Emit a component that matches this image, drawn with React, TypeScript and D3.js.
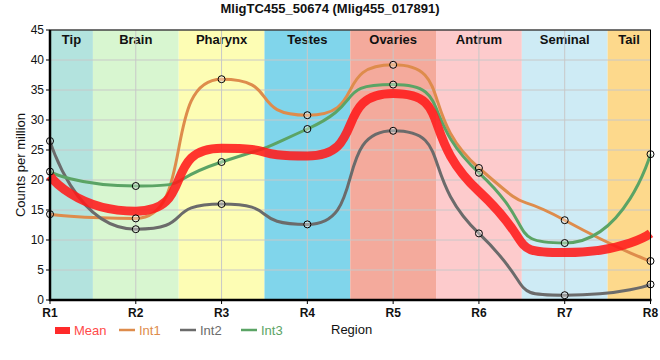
import React from "react";
import * as d3 from "d3";

const categories = ["R1", "R2", "R3", "R4", "R5", "R6", "R7", "R8"];
const int1 = [14.3, 13.6, 36.8, 30.8, 39.2, 22.0, 13.3, 6.5];
const int2 = [26.5, 11.8, 16.0, 12.6, 28.2, 11.1, 0.8, 2.6];
const int3 = [21.4, 19.0, 23.0, 28.5, 35.9, 21.2, 9.5, 24.3];
const mean = [20.7, 14.8, 25.3, 24.0, 34.4, 18.1, 7.9, 11.1];
const regions = ["Tip", "Brain", "Pharynx", "Testes", "Ovaries", "Antrum", "Seminal", "Tail"];
const regionColors = ["#b3e3de", "#d8f6d0", "#fdfdb4", "#80d5eb", "#f4aa9c", "#fdcbcc", "#ceebf5", "#fdd98c"];
const yTicks = [0, 5, 10, 15, 20, 25, 30, 35, 40, 45];

const W = 660, H = 360;
const L = 50, R = 650.5, T = 30, B = 300;
const SMOOTH = 0.7;

// smooth path through every point, with control points that avoid false extremes
function splinePath(pts: [number, number][], a: number): string {
  const path = d3.path();
  let prevRight: [number, number] | null = null;
  pts.forEach((p, i) => {
    const [px, py] = p;
    if (i === 0) {
      path.moveTo(px, py);
      return;
    }
    const last = pts[i - 1];
    const next = pts[i + 1];
    let lc: [number, number] = [px, py];
    let rc: [number, number] | null = null;
    if (next) {
      const [lx, ly] = last;
      const [nx, ny] = next;
      const lcx = (1 - a) * px + a * lx;
      let lcy = (1 - a) * py + a * ly;
      const rcx = (1 - a) * px + a * nx;
      let rcy = (1 - a) * py + a * ny;
      if (rcx !== lcx) {
        const dy = py - rcy - ((px - rcx) * (lcy - rcy)) / (lcx - rcx);
        lcy += dy;
        rcy += dy;
      }
      if (lcy > ly && lcy > py) { lcy = Math.max(ly, py); rcy = 2 * py - lcy; }
      else if (lcy < ly && lcy < py) { lcy = Math.min(ly, py); rcy = 2 * py - lcy; }
      if (rcy > ny && rcy > py) { rcy = Math.max(ny, py); lcy = 2 * py - rcy; }
      else if (rcy < ny && rcy < py) { rcy = Math.min(ny, py); lcy = 2 * py - rcy; }
      lc = [lcx, lcy];
      rc = [rcx, rcy];
    }
    const c1 = prevRight || last;
    path.bezierCurveTo(c1[0], c1[1], lc[0], lc[1], px, py);
    prevRight = rc;
  });
  return path.toString();
}

export default function App() {
  const x = d3.scaleLinear().domain([0, 7]).range([L, R]);
  const y = d3.scaleLinear().domain([0, 45]).range([B, T]);
  const toPts = (d: number[]) => d.map((v, i) => [x(i), y(v)] as [number, number]);
  const series = [
    { name: "Int1", data: int1, color: "#de8c4c" },
    { name: "Int2", data: int2, color: "#6b6b6b" },
    { name: "Int3", data: int3, color: "#5ba465" },
  ];
  const font = "Liberation Sans, Arial, sans-serif";
  return (
    <svg width={W} height={H} style={{ position: "absolute", left: 0, top: 0 }} fontFamily={font}>
      <rect width={W} height={H} fill="#fff" />
      {regions.map((r, i) => {
        const x0 = x(Math.max(0, i - 0.5));
        const x1 = x(Math.min(7, i + 0.5));
        return (
          <g key={r}>
            <rect x={x0} y={T} width={x1 - x0} height={B - T} fill={regionColors[i]} />
            <text x={(x0 + x1) / 2} y={T + 14} textAnchor="middle" fontWeight="bold" fontSize={13} fill="#111">
              {r}
            </text>
          </g>
        );
      })}
      {yTicks.map((t) => (
        <line key={"gy" + t} x1={L} x2={R} y1={y(t)} y2={y(t)} stroke="#c8c8c8" strokeWidth={1} />
      ))}
      {categories.map((c, i) => (
        <line key={"gx" + c} x1={x(i)} x2={x(i)} y1={T} y2={B} stroke="#c8c8c8" strokeWidth={1} />
      ))}
      {series.map((s) => (
        <path key={s.name} d={splinePath(toPts(s.data), SMOOTH)} fill="none" stroke={s.color} strokeWidth={3} />
      ))}
      <path d={splinePath(toPts(mean), SMOOTH)} fill="none" stroke="#ff1a1a" strokeOpacity={0.88} strokeWidth={9} />
      {series.map((s) =>
        s.data.map((v, i) => (
          <circle key={s.name + i} cx={x(i)} cy={y(v)} r={3.5} fill="#ffffff" fillOpacity={0.35} stroke="#000" strokeWidth={1} />
        ))
      )}
      <rect x={L} y={T} width={R - L} height={B - T} fill="none" stroke="#000" strokeWidth={1} />
      <line x1={L} x2={L} y1={T} y2={B + 1} stroke="#000" strokeWidth={2.5} />
      <line x1={L - 1} x2={R + 1} y1={B} y2={B} stroke="#000" strokeWidth={2.5} />
      {yTicks.map((t) => (
        <g key={"yt" + t}>
          <line x1={L - 4} x2={L} y1={y(t)} y2={y(t)} stroke="#000" />
          <text x={L - 6} y={y(t) + 4} textAnchor="end" fontSize={12} fill="#111">
            {t}
          </text>
        </g>
      ))}
      {categories.map((c, i) => (
        <g key={"xt" + c}>
          <line x1={x(i)} x2={x(i)} y1={B} y2={B + 4} stroke="#000" />
          <text x={x(i)} y={B + 16.5} textAnchor="middle" fontSize={12} fontWeight="bold" fill="#111">
            {c}
          </text>
        </g>
      ))}
      <text x={W / 2} y={13} textAnchor="middle" fontWeight="bold" fontSize={13} fill="#111">
        MligTC455_50674 (Mlig455_017891)
      </text>
      <text transform={`translate(25,${(T + B) / 2}) rotate(-90)`} textAnchor="middle" fontSize={13} fill="#111">
        Counts per million
      </text>
      <rect x={55} y={327} width={15} height={7} fill="#ff2a2a" />
      <text x={74} y={335} fontSize={13} fill="#ff4a4a">Mean</text>
      {series.map((s, i) => {
        const lx = 119 + i * 61;
        return (
          <g key={"lg" + s.name}>
            <line x1={lx} x2={lx + 16} y1={330} y2={330} stroke={s.color} strokeWidth={2.5} />
            <text x={lx + 20} y={335} fontSize={13} fill={s.color}>{s.name}</text>
          </g>
        );
      })}
      <text x={331} y={334} fontSize={13} fill="#111">Region</text>
    </svg>
  );
}
